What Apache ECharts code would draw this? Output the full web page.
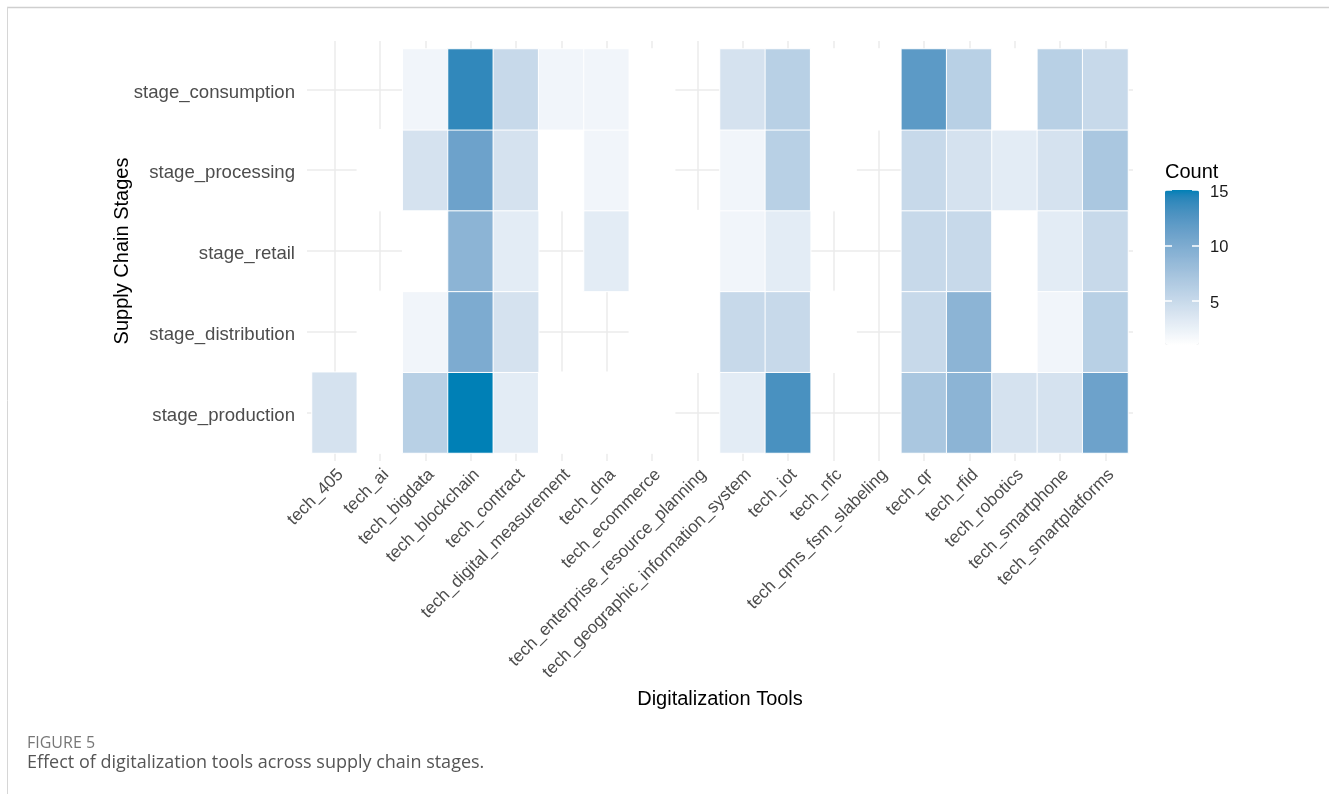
<!DOCTYPE html>
<html><head><meta charset="utf-8">
<script src="https://cdn.jsdelivr.net/npm/echarts@6/dist/echarts.min.js"></script>
<style>html,body{margin:0;padding:0;background:#fff}#c{width:1329px;height:794px}</style>
</head><body><div id="c"></div>
<script>
// ---- data ----
const toolCategories = ['tech_405','tech_ai','tech_bigdata','tech_blockchain','tech_contract','tech_digital_measurement','tech_dna','tech_ecommerce','tech_enterprise_resource_planning','tech_geographic_information_system','tech_iot','tech_nfc','tech_qms_fsm_slabeling','tech_qr','tech_rfid','tech_robotics','tech_smartphone','tech_smartplatforms'];
const stageCategories = ['stage_production','stage_distribution','stage_retail','stage_processing','stage_consumption'];
const productionCounts   = [4, 1, 6, 15, 3, 1, 1, 1, null, 3, 13, null, null, 7, 9, 4, 4, 11];
const distributionCounts = [null, 1, 2, 10, 4, null, null, 1, 1, 5, 5, 1, null, 5, 9, 1, 2, 6];
const retailCounts       = [null, null, 1, 9, 3, null, 3, 1, 1, 2, 3, null, null, 5, 5, 1, 3, 5];
const processingCounts   = [null, 1, 4, 11, 4, 1, 2, 1, null, 2, 6, 1, null, 5, 4, 3, 4, 7];
const consumptionCounts  = [null, null, 2, 14, 5, 2, 2, 1, null, 4, 6, 1, 1, 12, 6, 1, 6, 5];
const countMin = 1, countMax = 15;

// ---- build heatmap data ----
const stageRows = [productionCounts, distributionCounts, retailCounts, processingCounts, consumptionCounts];
const heatData = [];
stageRows.forEach((row, yi) => row.forEach((v, xi) => { if (v !== null) heatData.push([xi, yi, v]); }));

// ---- Lab gradient (as ggplot scale_fill_gradient) ----
const WHITE = [0.95047, 1, 1.08883];
function hex2rgb(h){return [1,3,5].map(i=>parseInt(h.substr(i,2),16));}
function toLab(rgb){
  const l = rgb.map(c=>{c/=255;return c<=0.04045?c/12.92:Math.pow((c+0.055)/1.055,2.4);});
  const X=(0.4124564*l[0]+0.3575761*l[1]+0.1804375*l[2])/WHITE[0];
  const Y=(0.2126729*l[0]+0.7151522*l[1]+0.0721750*l[2])/WHITE[1];
  const Z=(0.0193339*l[0]+0.1191920*l[1]+0.9503041*l[2])/WHITE[2];
  const f=t=>t>216/24389?Math.cbrt(t):(24389/27*t+16)/116;
  const fx=f(X),fy=f(Y),fz=f(Z);
  return [116*fy-16,500*(fx-fy),200*(fy-fz)];
}
function fromLab(lab){
  const [L,a,b]=lab; const fy=(L+16)/116, fx=fy+a/500, fz=fy-b/200;
  const inv=t=>{const t3=t*t*t;return t3>216/24389?t3:(116*t-16)/(24389/27);};
  const X=inv(fx)*WHITE[0],Y=inv(fy)*WHITE[1],Z=inv(fz)*WHITE[2];
  const r=3.2404542*X-1.5371385*Y-0.4985314*Z, g=-0.9692660*X+1.8760108*Y+0.0415560*Z, bb=0.0556434*X-0.2040259*Y+1.0572252*Z;
  const enc=c=>{c=c<=0.0031308?12.92*c:1.055*Math.pow(c,1/2.4)-0.055;return Math.round(Math.max(0,Math.min(1,c))*255);};
  return 'rgb('+enc(r)+','+enc(g)+','+enc(bb)+')';
}
const lowLab = toLab(hex2rgb('#ffffff')), highLab = toLab(hex2rgb('#0080b6'));
const gradStops = [];
for (let i = 0; i <= 28; i++) { const t = i/28; gradStops.push(fromLab(lowLab.map((v,k)=>v+t*(highLab[k]-v)))); }

const gridLine = {color:'#ebebeb', width:1.5};
const FONT = 'Liberation Sans';

const chart = echarts.init(document.getElementById('c'), null, {renderer:'canvas'});
chart.setOption({
  backgroundColor:'#fff',
  animation:false,
  textStyle:{fontFamily:FONT},
  graphic:[
    {type:'line', shape:{x1:7,y1:7.5,x2:1329,y2:7.5}, style:{stroke:'#cfcfcf', lineWidth:1.5}, silent:true},
    {type:'line', shape:{x1:7.5,y1:7,x2:7.5,y2:794}, style:{stroke:'#d6d6d6', lineWidth:1}, silent:true}
  ],
  title:[
    {text:'Count', left:1165, top:162, padding:0, textStyle:{fontSize:20, fontWeight:'normal', color:'#000', fontFamily:FONT}},
    {text:'FIGURE 5', left:27, top:735, padding:0, textStyle:{fontSize:16, fontWeight:'normal', color:'#777', fontFamily:'Open Sans'}},
    {text:'Effect of digitalization tools across supply chain stages.', left:27, top:754, padding:0, textStyle:{fontSize:18, fontWeight:'normal', color:'#555', fontFamily:'Open Sans'}}
  ],
  grid:[
    {left:312, top:49, width:816, height:404},
    {left:1165, top:190, width:34, height:166}
  ],
  xAxis:[
    {type:'category', gridIndex:0, position:'bottom', data:toolCategories,
     axisLine:{show:false},
     axisTick:{show:true, alignWithLabel:true, interval:0, length:8, lineStyle:gridLine},
     splitLine:{show:true, alignWithLabel:true, interval:0, lineStyle:gridLine},
     axisLabel:{interval:0, rotate:45, align:'right', verticalAlign:'top', margin:13, color:'#4d4d4d', fontSize:17.3, fontFamily:FONT},
     name:'Digitalization Tools', nameLocation:'middle', nameGap:236,
     nameTextStyle:{fontSize:20, color:'#000', fontFamily:FONT}},
    {type:'category', gridIndex:0, position:'top', data:toolCategories,
     axisLine:{show:false},
     axisTick:{show:true, alignWithLabel:true, interval:0, length:8, lineStyle:gridLine},
     axisLabel:{show:false}, splitLine:{show:false}},
    {type:'category', gridIndex:1, data:['bar'], show:false}
  ],
  yAxis:[
    {type:'category', gridIndex:0, position:'left', data:stageCategories,
     axisLine:{show:false},
     axisTick:{show:true, alignWithLabel:true, interval:0, length:5, lineStyle:gridLine},
     splitLine:{show:true, alignWithLabel:true, interval:0, lineStyle:gridLine},
     axisLabel:{interval:0, margin:17, formatter:v=>'{s|'+v+'}',
       rich:{s:{color:'#4d4d4d', fontSize:18.6, fontFamily:FONT, padding:[6,0,0,0]}}},
     name:'Supply Chain Stages', nameLocation:'middle', nameGap:180, nameMoveOverlap:false,
     nameTextStyle:{fontSize:20, color:'#000', fontFamily:FONT}},
    {type:'category', gridIndex:0, position:'right', data:stageCategories,
     axisLine:{show:false},
     axisTick:{show:true, alignWithLabel:true, interval:0, length:5, lineStyle:gridLine},
     axisLabel:{show:false}, splitLine:{show:false}},
    {type:'value', gridIndex:1, position:'left', min:0, max:15, interval:5, z:10,
     axisLine:{show:false}, axisTick:{show:true, inside:true, length:7, lineStyle:{color:'#fff', width:1.5}},
     axisLabel:{show:false}, splitLine:{show:false}},
    {type:'value', gridIndex:1, position:'right', min:0, max:15, interval:5, z:10,
     axisLine:{show:false}, axisTick:{show:true, inside:true, length:7, lineStyle:{color:'#fff', width:1.5}},
     axisLabel:{show:true, showMinLabel:false, margin:11, formatter:v=>'{s|'+v+'}',
       rich:{s:{color:'#1a1a1a', fontSize:16.5, fontFamily:FONT, padding:[5,0,0,0]}}},
     splitLine:{show:false}}
  ],
  visualMap:{
    type:'continuous', min:countMin, max:countMax, seriesIndex:0, calculable:false,
    orient:'vertical', left:1165, top:190, itemWidth:34, itemHeight:155, padding:0,
    text:null, showLabel:false, hoverLink:false,
    inRange:{color:gradStops}
  },
  series:[{
    type:'heatmap', xAxisIndex:0, yAxisIndex:0, data:heatData,
    itemStyle:{borderColor:'#fff', borderWidth:1},
    emphasis:{disabled:true}, progressive:0
  }]
});
</script></body></html>
